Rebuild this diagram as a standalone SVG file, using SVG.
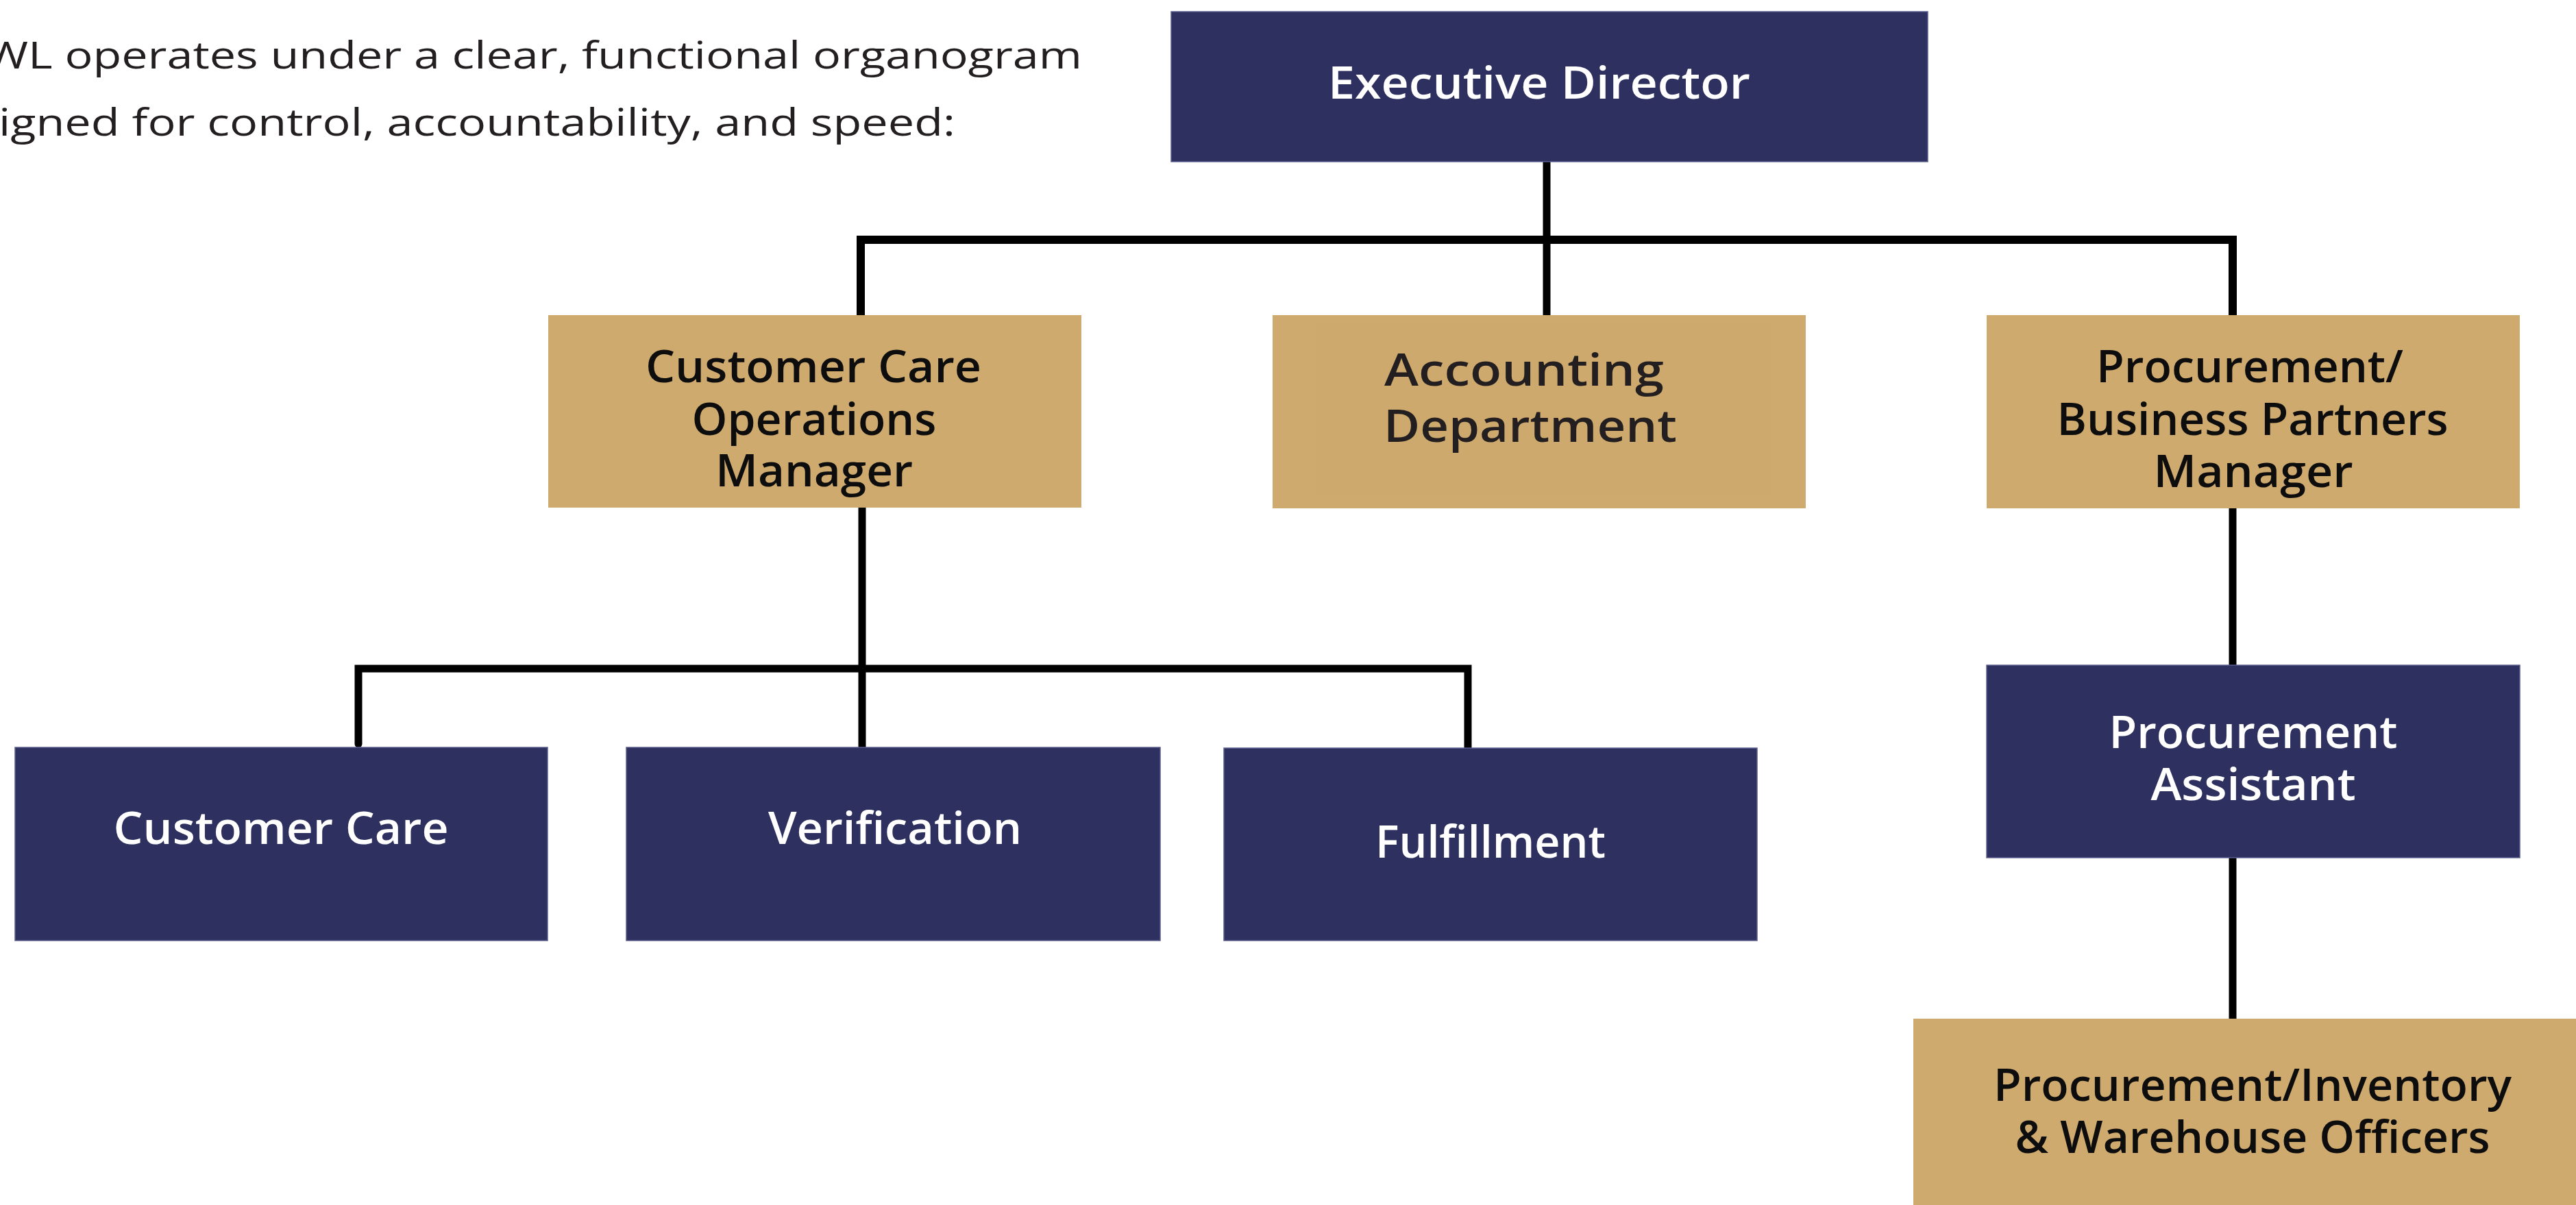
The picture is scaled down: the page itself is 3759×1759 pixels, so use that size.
<svg xmlns="http://www.w3.org/2000/svg" width="3759" height="1759" viewBox="0 0 3759 1759">
  <style>
    .navy { fill: #2E315F; stroke: #5B5E8C; stroke-width: 1.5; }
    .tan { fill: #CFAA6E; }
    .lbl { font-family: "Open Sans", "Noto Sans", "Liberation Sans", sans-serif; font-size: 66px; font-weight: 600; text-anchor: middle; }
    .w { fill: #FFFFFF; }
    .d { fill: #0D0D0D; }
    .para { font-family: "Open Sans", "Noto Sans", "Liberation Sans", sans-serif; font-size: 54px; font-weight: 400; fill: #231F20; }
    .conn { fill: none; stroke: #000000; stroke-width: 11; stroke-linejoin: miter; stroke-linecap: butt; }
  </style>
  <rect x="0" y="0" width="3759" height="1759" fill="#FFFFFF"/>

  <g id="intro-text">
    <text class="para" x="-22" y="100" textLength="1601" lengthAdjust="spacingAndGlyphs">WL operates under a clear, functional organogram</text>
    <text class="para" x="-2" y="198" textLength="1396" lengthAdjust="spacingAndGlyphs">igned for control, accountability, and speed:</text>
  </g>

  <g id="connectors">
    <path class="conn" d="M2257 236 V460"/>
    <path class="conn" d="M1256 460 V350 H3258 V460" style="stroke-width:12"/>
    <path class="conn" d="M1258 741 V1091"/>
    <path class="conn" d="M523 1086 V976 H2142 V1091" style="stroke-linecap:round"/>
    <path class="conn" d="M3258 741 V971"/>
    <path class="conn" d="M3258 1250 V1487" style="stroke-linecap:round"/>
  </g>

  <g id="executive-director">
    <rect class="navy" x="1709" y="17" width="1104" height="219"/>
    <text class="lbl w" x="2246" y="144" textLength="616" lengthAdjust="spacingAndGlyphs">Executive Director</text>
  </g>

  <g id="customer-care-operations-manager">
    <rect class="tan" x="800" y="460" width="778" height="281"/>
    <text class="lbl d" x="1187" y="558" textLength="490" lengthAdjust="spacingAndGlyphs">Customer Care</text>
    <text class="lbl d" x="1188" y="635" textLength="357" lengthAdjust="spacingAndGlyphs">Operations</text>
    <text class="lbl d" x="1188" y="710" textLength="288" lengthAdjust="spacingAndGlyphs">Manager</text>
  </g>

  <g id="accounting-department">
    <rect class="tan" x="1857" y="460" width="778" height="282"/>
    <rect x="1919" y="472" width="666" height="252" fill="#CEA96D"/>
    <text class="lbl" style="text-anchor:start;fill:#231F20" x="2020" y="563" textLength="408" lengthAdjust="spacingAndGlyphs">Accounting</text>
    <text class="lbl" style="text-anchor:start;fill:#231F20" x="2019" y="645" textLength="428" lengthAdjust="spacingAndGlyphs">Department</text>
  </g>

  <g id="procurement-business-partners-manager">
    <rect class="tan" x="2899" y="460" width="778" height="282"/>
    <text class="lbl d" x="3283" y="558" textLength="448" lengthAdjust="spacingAndGlyphs">Procurement/</text>
    <text class="lbl d" x="3287" y="635" textLength="571" lengthAdjust="spacingAndGlyphs">Business Partners</text>
    <text class="lbl d" x="3288" y="711" textLength="291" lengthAdjust="spacingAndGlyphs">Manager</text>
  </g>

  <g id="customer-care">
    <rect class="navy" x="22" y="1091" width="777" height="282"/>
    <text class="lbl w" x="410" y="1232" textLength="489" lengthAdjust="spacingAndGlyphs">Customer Care</text>
  </g>

  <g id="verification">
    <rect class="navy" x="914" y="1091" width="779" height="282"/>
    <text class="lbl w" x="1306" y="1232" textLength="370" lengthAdjust="spacingAndGlyphs">Verification</text>
  </g>

  <g id="fulfillment">
    <rect class="navy" x="1786" y="1092" width="778" height="281"/>
    <text class="lbl w" x="2175" y="1252" textLength="336" lengthAdjust="spacingAndGlyphs">Fulfillment</text>
  </g>

  <g id="procurement-assistant">
    <rect class="navy" x="2899" y="971" width="778" height="281"/>
    <text class="lbl w" x="3288" y="1092" textLength="421" lengthAdjust="spacingAndGlyphs">Procurement</text>
    <text class="lbl w" x="3288" y="1168" textLength="299" lengthAdjust="spacingAndGlyphs">Assistant</text>
  </g>

  <g id="procurement-inventory-warehouse-officers">
    <rect class="tan" x="2792" y="1487" width="990" height="290"/>
    <text class="lbl d" x="3287" y="1607" textLength="756" lengthAdjust="spacingAndGlyphs">Procurement/Inventory</text>
    <text class="lbl d" x="3287" y="1683" textLength="693" lengthAdjust="spacingAndGlyphs">&amp; Warehouse Officers</text>
  </g>
</svg>
